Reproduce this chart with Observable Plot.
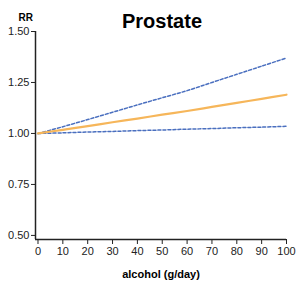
<!DOCTYPE html>
<html>
<head>
<meta charset="utf-8">
<script src="https://cdn.jsdelivr.net/npm/d3@7"></script>
<script src="https://cdn.jsdelivr.net/npm/@observablehq/plot@0.6"></script>
<style>
  html, body { margin: 0; padding: 0; background: #fff; }
  svg { font-family: Arial, "Liberation Sans", sans-serif; }
</style>
</head>
<body>
<div id="chart"></div>
<script>
const title = "Prostate";
const yLabel = "RR";
const xLabel = "alcohol (g/day)";
const alcohol = [0, 10, 20, 30, 40, 50, 60, 70, 80, 90, 100];
const rr      = [1.000, 1.018, 1.036, 1.055, 1.073, 1.092, 1.110, 1.130, 1.150, 1.170, 1.190];
const upper   = [1.000, 1.033, 1.068, 1.104, 1.140, 1.175, 1.210, 1.250, 1.290, 1.330, 1.370];
const lower   = [1.000, 1.003, 1.007, 1.010, 1.014, 1.017, 1.021, 1.024, 1.028, 1.031, 1.035];
const xTicks = [0, 10, 20, 30, 40, 50, 60, 70, 80, 90, 100];
const yTicks = [0.50, 0.75, 1.00, 1.25, 1.50];

const rows = alcohol.map((a, i) => ({a, rr: rr[i], up: upper[i], lo: lower[i]}));

const chart = Plot.plot({
  width: 296,
  height: 281,
  marginLeft: 35,
  marginRight: 10,
  marginTop: 31,
  marginBottom: 42,
  style: {fontFamily: "Arial, 'Liberation Sans', sans-serif", color: "#222", background: "#fff"},
  x: {domain: [-1, 100]},
  y: {domain: [0.48, 1.5]},
  marks: [
    Plot.axisY({ticks: yTicks, tickFormat: d3.format(".2f"), tickSize: 4, tickPadding: 2, fontSize: 11, label: null, stroke: "#222"}),
    Plot.axisX({ticks: xTicks, tickSize: 5, tickPadding: 3, fontSize: 11, label: null, stroke: "#222"}),
    Plot.ruleX([-1], {stroke: "#222", strokeWidth: 1.5}),
    Plot.ruleY([0.48], {stroke: "#222", strokeWidth: 1.5}),
    Plot.line(rows, {x: "a", y: "up", stroke: "#4a6fbf", strokeWidth: 1.5, strokeDasharray: "3,2", curve: "catmull-rom"}),
    Plot.line(rows, {x: "a", y: "lo", stroke: "#4a6fbf", strokeWidth: 1.5, strokeDasharray: "3,2", curve: "catmull-rom"}),
    Plot.line(rows, {x: "a", y: "rr", stroke: "#f6b65a", strokeWidth: 2.2, curve: "catmull-rom"}),
    Plot.text([title], {frameAnchor: "top", dx: 1, dy: -4, lineAnchor: "bottom", fontSize: 20, fontWeight: "bold", fill: "#000"}),
    Plot.text([yLabel], {frameAnchor: "top-left", dx: -17, dy: -11, lineAnchor: "bottom", fontSize: 10, fontWeight: "bold", fill: "#000"}),
    Plot.text([xLabel], {frameAnchor: "bottom", dy: 38, lineAnchor: "bottom", fontSize: 11, fontWeight: "bold", fill: "#000", letterSpacing: "0.5px"})
  ]
});
document.getElementById("chart").appendChild(chart);
</script>
</body>
</html>
